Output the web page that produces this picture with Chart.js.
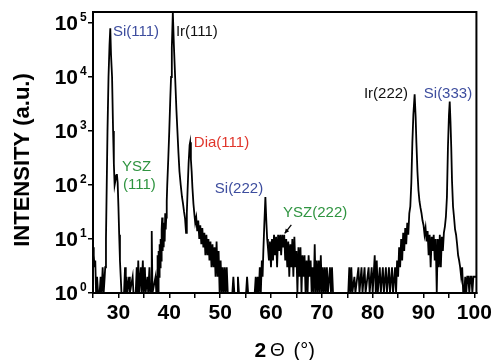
<!DOCTYPE html>
<html>
<head>
<meta charset="utf-8">
<script src="https://cdn.jsdelivr.net/npm/chart.js@4.4.0/dist/chart.umd.min.js"></script>
<style>
  html, body { margin: 0; padding: 0; background: #fff; }
  canvas { display: block; }
</style>
</head>
<body>
<canvas id="c" width="495" height="360"></canvas>
<script>
// ---- data (2θ in degrees, intensity in counts) ----
const xrdScan = [
  [25.0,7],[25.15,5],[25.3,3],[25.45,4],[25.6,1],[25.8,2],[26.0,1],[26.3,1],[26.5,2],[26.7,1],[26.9,3],[27.1,1],[27.3,2],[27.4,3],
  [27.55,10],[27.7,100],[27.85,1000],[28.05,10000],[28.25,40000],[28.4,80000],[28.55,25000],[28.75,10000],[28.95,1000],[29.1,250],
  [29.25,100],[29.4,120],[29.55,150],[29.7,160],[29.85,110],[30.0,40],[30.15,12],[30.3,4],[30.45,2],[30.6,1],
  [31.1,1],[31.3,3],[31.45,1],[31.6,2],[31.75,1],[32.1,2],[32.25,1],[32.8,2],[32.95,1],[33.4,1],[33.6,3],[33.75,1],[33.9,4],[34.05,1],
  [34.4,3],[34.55,1],[34.8,4],[34.95,1],[35.2,3],[35.35,1],[35.7,2],[35.85,1],[36.1,3],[36.25,1],[36.45,1],[36.55,14],[36.7,1],
  [37.3,2],[37.45,1],[37.6,2],[37.7,5],[37.8,1],[37.9,6],[38.0,2],[38.1,8],[38.2,3],[38.3,10],[38.4,4],[38.5,15],[38.6,25],[38.7,6],
  [38.8,14],[38.9,7],[39.0,20],[39.1,9],[39.2,30],[39.3,15],[39.4,25],
  [39.5,50],[39.6,100],[39.8,300],[40.0,1000],[40.2,4000],[40.35,10000],[40.5,35000],[40.7,160000],[40.9,40000],[41.15,10000],
  [41.4,2500],[41.6,1000],[41.8,400],[42.0,180],[42.25,100],[42.5,60],[42.7,45],[42.9,32],[43.1,24],[43.3,13],
  [43.45,30],[43.6,80],[43.8,250],[44.0,550],[44.1,620],[44.25,300],[44.4,180],[44.55,90],[44.75,45],[44.95,28],
  [45.1,20],[45.3,25],[45.5,14],[45.7,22],[45.9,10],[46.1,18],[46.3,8],[46.5,16],[46.7,7],[46.9,13],[47.1,5],[47.3,12],[47.5,5],
  [47.7,10],[47.9,4],[48.1,9],[48.3,3],[48.5,8],[48.7,3],[48.9,7],[49.1,2],[49.3,9],[49.5,2],[49.7,6],[49.9,1],[50.1,4],[50.3,1],
  [50.5,3],[50.7,1],[50.9,3],[51.1,1],[51.3,3],[51.5,1],
  [52.4,1],[52.6,2],[52.8,1],[53.4,1],[53.5,2],[53.7,1],[55.1,1],[55.3,2],[55.5,1],[56.8,1],[57.0,2],[57.2,1],[57.4,2],[57.6,1],
  [57.8,3],[58.0,1],[58.2,4],[58.35,2],[58.5,6],[58.7,20],[58.9,60],[59.1,20],[59.25,10],[59.4,7],
  [59.6,4],[59.8,9],[60.0,3],[60.2,10],[60.4,4],[60.6,12],[60.8,5],[61.0,11],[61.2,3],[61.4,12],[61.6,6],[61.8,12],[62.0,5],
  [62.2,12],[62.4,7],[62.6,12],[62.8,4],[63.0,10],[63.2,3],[63.4,9],[63.6,2],[63.8,8],[64.0,3],[64.2,10],[64.4,2],[64.6,11],
  [64.8,3],[65.0,6],[65.2,1],[65.4,7],[65.6,2],[65.8,7],[66.0,1],[66.2,5],[66.4,2],[66.6,5],[66.8,1],[67.0,4],[67.2,1],[67.4,5],
  [67.6,2],[67.8,4],[68.0,1],[68.2,3],[68.4,1],[68.6,8],[68.8,1],[69.0,4],[69.2,1],[69.4,4],[69.6,1],[69.8,5],[70.0,1],[70.2,3],
  [70.4,1],[70.6,3],[70.8,1],[71.0,3],[71.2,1],[71.6,3],[71.8,1],[72.0,3],[72.2,1],
  [75.0,1],[75.2,1],[75.4,3],[75.6,1],[75.8,3],[76.0,1],[76.4,2],[76.6,1],[77.2,3],[77.4,1],[77.8,3],[78.0,1],[78.4,3],[78.6,1],
  [79.2,3],[79.4,1],[79.8,3],[80.0,1],[80.4,5],[80.6,1],[80.8,4],[81.0,1],[81.4,3],[81.6,1],[82.0,3],[82.2,1],[82.6,3],[82.8,1],
  [83.2,3],[83.4,1],[83.8,3],[84.0,1],[84.4,3],[84.6,1],[84.8,4],[85.0,2],[85.2,7],[85.4,3],[85.6,10],[85.8,4],[86.0,13],[86.2,6],
  [86.4,16],[86.6,8],[86.8,20],[87.0,12],[87.2,30],[87.4,40],[87.6,110],[87.8,600],[88.0,2000],[88.25,4800],[88.45,1800],
  [88.6,600],[88.8,180],[89.0,80],[89.2,50],[89.4,38],[89.6,30],[89.8,22],[90.0,18],[90.2,12],[90.4,16],[90.6,9],[90.8,14],
  [91.0,5],[91.2,12],[91.4,3],[91.6,11],[91.8,6],[92.0,12],[92.2,4],[92.4,10],[92.6,1],[92.8,10],[93.0,3],[93.2,12],[93.4,3],
  [93.6,11],[93.8,6],[94.0,13],[94.2,17],[94.4,26],[94.6,60],[94.8,500],[95.0,2000],[95.15,3500],[95.3,1500],[95.45,500],
  [95.6,120],[95.8,40],[96.0,25],[96.2,15],[96.4,12],[96.6,8],[96.8,5],[97.0,4],[97.2,3],[97.4,2],[97.6,3],[97.8,1],[98.0,1],
  [98.2,2],[98.4,1],[98.6,2],[98.8,2],[99.0,1],[99.2,2],[99.4,2],[99.6,1],[99.8,2],[100.0,2],[100.2,2],[100.4,2]
];
const xTickValues = [25,30,35,40,45,50,55,60,65,70,75,80,85,90,95,100];
const yTickValues = [1,10,100,1000,10000,100000];
const peakLabels = ['Si(111)','Ir(111)','Dia(111)','YSZ','(111)','Si(222)','YSZ(222)','Ir(222)','Si(333)'];

// ---- layout / styles (not data) ----
const FONT = '"Liberation Sans", Arial, Helvetica, sans-serif';
const BLUE = '#3d4d9e', GREEN = '#2f9440', RED = '#e0352b', BLACK = '#111';
const labelStyle = {
  'Si(111)':  {at:[28.93, 68000], color: BLUE},
  'Ir(111)':  {at:[41.30, 68000], color: BLACK},
  'Dia(111)': {at:[44.83, 600],   color: RED},
  'YSZ':      {at:[30.69, 215],   color: GREEN},
  '(111)':    {at:[30.89, 100],   color: GREEN},
  'Si(222)':  {at:[48.95, 84],    color: BLUE},
  'YSZ(222)': {at:[62.37, 30],    color: GREEN},
  'Ir(222)':  {at:[78.27, 4780],  color: BLACK},
  'Si(333)':  {at:[90.05, 4800],  color: BLUE}
};
const arrowFrom = [64.0, 18.2], arrowTo = [62.7, 12.7];

const overlay = {
  id: 'overlay',
  afterDraw(chart) {
    const {ctx, chartArea: a, scales: {x, y}} = chart;
    ctx.save();
    // frame
    ctx.strokeStyle = '#000';
    ctx.lineWidth = 2;
    ctx.strokeRect(a.left, a.top, a.right - a.left, a.bottom - a.top);
    // y tick labels 10^n
    ctx.fillStyle = '#000';
    y.ticks.forEach(t => {
      const py = y.getPixelForValue(t.value);
      const e = Math.round(Math.log10(t.value));
      ctx.font = 'bold 21px ' + FONT;
      ctx.textAlign = 'right';
      ctx.textBaseline = 'middle';
      ctx.fillText('10', a.left - 15, py + 1);
      ctx.font = 'bold 12px ' + FONT;
      ctx.textAlign = 'left';
      ctx.textBaseline = 'alphabetic';
      ctx.fillText(String(e), a.left - 13, py - 2);
    });
    // y title
    ctx.save();
    ctx.translate(22.5, 160);
    ctx.rotate(-Math.PI / 2);
    ctx.font = 'bold 22px ' + FONT;
    ctx.textAlign = 'center';
    ctx.textBaseline = 'middle';
    ctx.fillText('INTENSITY (a.u.)', 0, 0);
    ctx.restore();
    // x title: bold "2", regular "Θ (°)"
    ctx.textBaseline = 'middle';
    ctx.textAlign = 'left';
    ctx.font = 'bold 21px ' + FONT;
    ctx.fillText('2', 254.5, 351);
    ctx.font = '19px ' + FONT;
    ctx.fillText('Θ', 270, 351);
    ctx.font = '20px ' + FONT;
    ctx.fillText('(°)', 293.5, 351);
    // peak labels
    ctx.font = '15px ' + FONT;
    ctx.textAlign = 'left';
    ctx.textBaseline = 'middle';
    peakLabels.forEach(name => {
      const s = labelStyle[name];
      ctx.fillStyle = s.color;
      ctx.fillText(name, x.getPixelForValue(s.at[0]), y.getPixelForValue(s.at[1]));
    });
    // arrow for YSZ(222)
    const x1 = x.getPixelForValue(arrowFrom[0]), y1 = y.getPixelForValue(arrowFrom[1]);
    const x2 = x.getPixelForValue(arrowTo[0]), y2 = y.getPixelForValue(arrowTo[1]);
    ctx.strokeStyle = '#000';
    ctx.fillStyle = '#000';
    ctx.lineWidth = 1.3;
    ctx.beginPath(); ctx.moveTo(x1, y1); ctx.lineTo(x2, y2); ctx.stroke();
    const ang = Math.atan2(y2 - y1, x2 - x1), h = 5;
    ctx.beginPath();
    ctx.moveTo(x2, y2);
    ctx.lineTo(x2 - h * Math.cos(ang - 0.45), y2 - h * Math.sin(ang - 0.45));
    ctx.lineTo(x2 - h * Math.cos(ang + 0.45), y2 - h * Math.sin(ang + 0.45));
    ctx.closePath(); ctx.fill();
    ctx.restore();
  }
};

new Chart(document.getElementById('c'), {
  type: 'line',
  data: {
    datasets: [{
      data: xrdScan.map(([t, c]) => ({x: t, y: c})),
      borderColor: '#000',
      borderWidth: 1.8,
      pointRadius: 0,
      tension: 0,
      fill: false
    }]
  },
  options: {
    responsive: false,
    animation: false,
    devicePixelRatio: 1,
    layout: {padding: {top: 12, right: 18, left: 0, bottom: 0}},
    plugins: {legend: {display: false}, tooltip: {enabled: false}},
    scales: {
      x: {
        type: 'linear', min: 25, max: 100.4,
        afterBuildTicks: s => { s.ticks = xTickValues.map(v => ({value: v})); },
        afterFit: s => { s.height = 67; },
        ticks: {
          autoSkip: false, maxRotation: 0, padding: 3, color: '#000',
          font: {family: FONT, size: 21, weight: 'bold'},
          callback: v => (v % 10 === 0 ? String(v) : '')
        },
        grid: {display: true, drawOnChartArea: false, drawTicks: true, tickLength: 5, color: '#000', lineWidth: 1.5},
        border: {display: true, color: '#000', width: 2}
      },
      y: {
        type: 'logarithmic', min: 1, max: 160000,
        afterBuildTicks: s => { s.ticks = yTickValues.map(v => ({value: v})); },
        afterFit: s => { s.width = 93; },
        ticks: {display: false},
        grid: {display: true, drawOnChartArea: false, drawTicks: true, tickLength: 5, color: '#000', lineWidth: 1.5},
        border: {display: true, color: '#000', width: 2}
      }
    }
  },
  plugins: [overlay]
});
</script>
</body>
</html>
